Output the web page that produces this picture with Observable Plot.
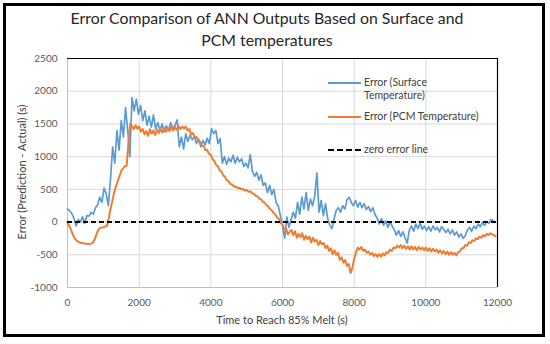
<!DOCTYPE html>
<html>
<head>
<meta charset="utf-8">
<script src="https://cdn.jsdelivr.net/npm/d3@7"></script>
<script src="https://cdn.jsdelivr.net/npm/@observablehq/plot@0.6"></script>
<style>
  html, body { margin: 0; padding: 0; background: #fff; }
  #wrap { position: relative; width: 550px; height: 344px; overflow: hidden; font-family: Lato, "Open Sans", sans-serif; }
  #frame { position: absolute; left: 3px; top: 3px; width: 536px; height: 328px; border: 3px solid #000; }
  #title { position: absolute; left: 0; width: 534px; top: 7px; text-align: center; font-size: 15.8px; line-height: 22px; color: #262626; }
  #chart { position: absolute; left: 0; top: 0; }
  #ylab { position: absolute; left: 21px; top: 172px; transform: translate(-50%, -50%) rotate(-90deg); white-space: nowrap; font-size: 11px; color: #404040; }
  #xlab { position: absolute; left: 282px; top: 319px; transform: translate(-50%, -50%); white-space: nowrap; font-size: 11px; color: #404040; }
  .leg { position: absolute; font-size: 10.5px; color: #404040; line-height: 13px; }
  .sw { position: absolute; left: 328px; width: 33px; height: 0; }
</style>
</head>
<body>
<div id="wrap">
  <div id="frame"></div>
  <div id="chart"></div>
  <div id="title">Error Comparison of ANN Outputs Based on Surface and<br>PCM temperatures</div>
  <div id="ylab">Error (Prediction - Actual) (s)</div>
  <div id="xlab">Time to Reach 85% Melt (s)</div>
  <div class="sw" style="top:82px;border-top:2px solid #5B9BD5"></div>
  <div class="leg" style="left:364px;top:76px">Error (Surface<br>Temperature)</div>
  <div class="sw" style="top:116px;border-top:2px solid #ED7D31"></div>
  <div class="leg" style="left:364px;top:110px">Error (PCM Temperature)</div>
  <div class="sw" style="top:149px;border-top:2px dashed #000"></div>
  <div class="leg" style="left:364px;top:143px">zero error line</div>
</div>
<script>
// Error (Surface Temperature), sampled every 60 s from 0 s
const blueStep = 60;
const blueErr = [
  200, 170, 130, 60, -60, 40, 0, 80, -20, 100,
  90, 150, 120, 220, 260, 380, 300, 520, 430, 250,
  650, 1150, 900, 1400, 1100, 1550, 1300, 1750, 1400, 1000,
  1900, 1700, 1880, 1650, 1780, 1550, 1700, 1480, 1620, 1450,
  1640, 1420, 1520, 1400, 1500, 1380, 1470, 1400, 1520, 1420,
  1480, 1560, 1150, 1300, 1120, 1350, 1230, 1330, 1260, 1300,
  1200, 1270, 1150, 1250, 1180, 1280, 1200, 1430, 1350, 1400,
  1200, 1280, 900, 1000, 880, 980, 920, 1020, 900, 990,
  920, 970, 850, 900, 830, 1030, 780, 700, 760, 640,
  720, 560, 600, 450, 560, 420, 500, 300, 250, 100,
  -50, -250, 80, -80, 40, 150, 60, 300, 120, 380,
  200, 450, 180, 350, 250, 400, 750, 150, 330, 100,
  280, 60, -50, -100, 50, 180, 220, 150, 250, 200,
  340, 380, 300, 250, 330, 230, 300, 220, 280, 190,
  240, 160, 220, 120, 60, -30, 50, -50, 20, -80,
  0, -60, -120, -200, -130, -220, -150, -240, -320, -120,
  -60, -140, -30, -100, -20, -110, -60, -130, -70, -140,
  -60, -120, -80, -150, -70, -110, -160, -110, -180, -120,
  -200, -150, -230, -180, -250, -210, -120, -80, -140, -60,
  -100, -30, -70, -10, -50, 10, -20, 40, 20, 0
];
// Error (PCM Temperature), sampled every 50 s from 0 s
const orangeStep = 50;
const orangeErr = [
  0, -60, -120, -190, -250, -280, -300, -315, -320, -325,
  -330, -332, -335, -330, -320, -280, -200, -130, -90, -85,
  -80, -70, -60, 50, 200, 320, 450, 540, 620, 700,
  780, 820, 850, 860, 1200, 1500, 1470, 1420, 1480, 1430,
  1460, 1380, 1420, 1340, 1390, 1320, 1420, 1350, 1400, 1330,
  1410, 1360, 1420, 1370, 1440, 1380, 1430, 1390, 1460, 1400,
  1450, 1410, 1470, 1420, 1460, 1430, 1460, 1400, 1420, 1340,
  1360, 1300, 1300, 1240, 1230, 1170, 1160, 1100, 1100, 1040,
  1030, 960, 930, 870, 850, 790, 770, 710, 690, 640,
  620, 580, 570, 540, 545, 520, 525, 500, 505, 480,
  490, 465, 470, 440, 435, 400, 395, 360, 350, 310,
  300, 260, 240, 200, 180, 140, 120, 70, 50, -10,
  -40, -110, -100, -190, -150, -120, -200, -140, -240, -180,
  -230, -170, -270, -210, -260, -220, -310, -240, -300, -270,
  -350, -290, -340, -320, -400, -360, -440, -400, -490, -430,
  -500, -470, -580, -540, -620, -580, -670, -640, -780, -700,
  -560, -470, -390, -420, -380, -440, -420, -470, -450, -500,
  -470, -520, -490, -530, -490, -530, -480, -510, -460, -470,
  -420, -440, -390, -400, -360, -390, -350, -400, -360, -410,
  -370, -420, -370, -420, -380, -430, -380, -420, -390, -430,
  -390, -440, -400, -450, -410, -450, -420, -470, -430, -480,
  -440, -490, -450, -500, -460, -500, -470, -510, -460, -450,
  -400, -400, -350, -360, -310, -320, -280, -290, -250, -260,
  -220, -240, -200, -220, -180, -200, -170, -190, -200, -220
];
const xTicks = [0, 2000, 4000, 6000, 8000, 10000, 12000];
const yTicks = [-1000, -500, 0, 500, 1000, 1500, 2000, 2500];
const zeroLine = [0];

const blue = blueErr.map((v, i) => ({t: i * blueStep, v}));
const orange = orangeErr.map((v, i) => ({t: i * orangeStep, v}));

const chart = Plot.plot({
  width: 550,
  height: 344,
  marginLeft: 67,
  marginRight: 53,
  marginTop: 58,
  marginBottom: 57,
  style: {fontFamily: "Lato, 'Open Sans', sans-serif", fontSize: "10px", color: "#595959", background: "transparent"},
  x: {domain: [0, 12000]},
  y: {domain: [-1000, 2500]},
  marks: [
    Plot.gridX(xTicks, {stroke: "#d9d9d9", strokeOpacity: 1, strokeWidth: 1}),
    Plot.gridY(yTicks, {stroke: "#d9d9d9", strokeOpacity: 1, strokeWidth: 1}),
    Plot.axisX(xTicks, {tickSize: 0, tickPadding: 11, tickFormat: d => String(d), label: null, fill: "#595959"}),
    Plot.axisY(yTicks, {tickSize: 0, tickPadding: 10, tickFormat: d => String(d), label: null, fill: "#595959"}),
    Plot.ruleX([xTicks[0]], {stroke: "#bfbfbf", strokeWidth: 1}),
    Plot.ruleY([yTicks[0]], {stroke: "#bfbfbf", strokeWidth: 1}),
    Plot.ruleX([xTicks[xTicks.length - 1]], {stroke: "#000", strokeWidth: 1.2}),
    Plot.ruleY([yTicks[yTicks.length - 1]], {stroke: "#000", strokeWidth: 1.2}),
    Plot.line(blue, {x: "t", y: "v", stroke: "#5B9BD5", strokeWidth: 1.7}),
    Plot.line(orange, {x: "t", y: "v", stroke: "#ED7D31", strokeWidth: 2}),
    Plot.ruleY(zeroLine, {stroke: "#000", strokeWidth: 2, strokeDasharray: "5,3"})
  ]
});
document.getElementById("chart").appendChild(chart);
</script>
</body>
</html>
